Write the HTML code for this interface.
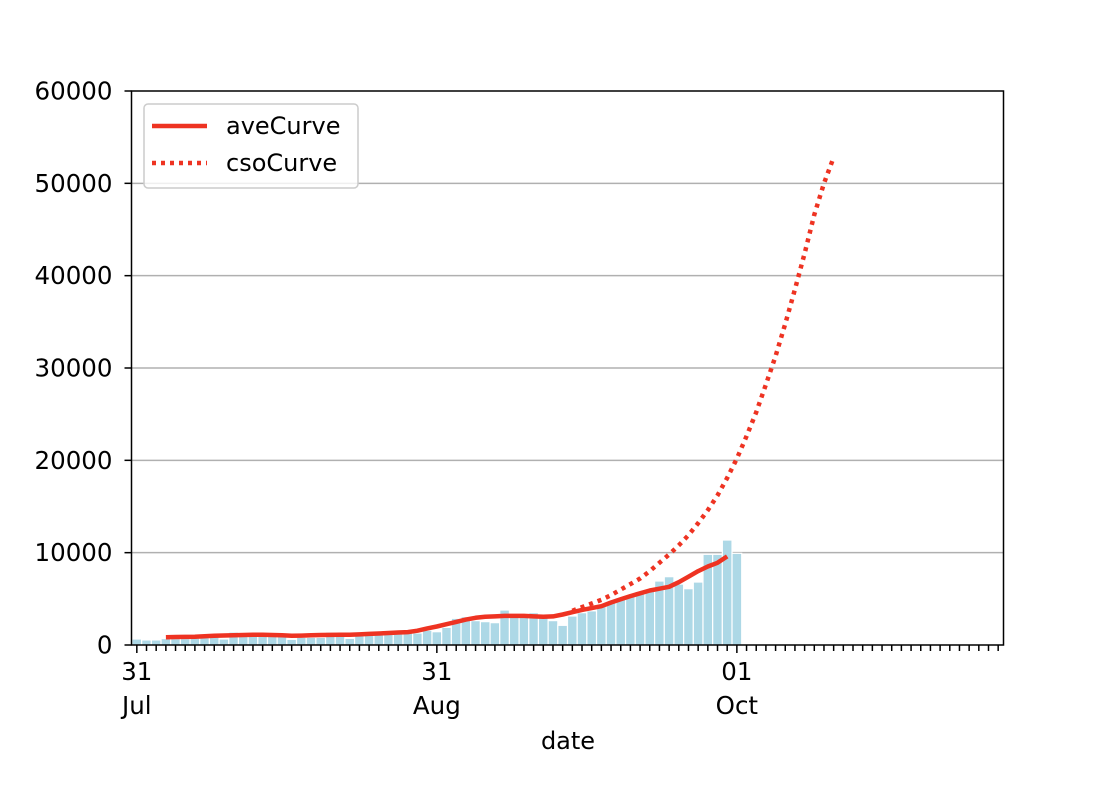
<!DOCTYPE html>
<html><head><meta charset="utf-8"><style>
body{margin:0;background:#fff;}
svg text{font-family:"DejaVu Sans","Liberation Sans",sans-serif;fill:#000;}
</style></head><body>
<svg id="chart" width="1110" height="796" viewBox="0 0 1110 796" xmlns="http://www.w3.org/2000/svg">
<rect x="0" y="0" width="1110" height="796" fill="#fff"/>
<g id="grid"></g>
<g id="bars"></g>
<g id="lines"></g>
<rect x="131.5" y="91" width="872" height="554" fill="none" stroke="#000" stroke-width="1.5"/>
<g id="xaxis"></g>
<g id="yaxis"></g>
<text x="568" y="749" font-size="24" text-anchor="middle">date</text>
<g>
<rect x="144" y="104" width="214" height="84" rx="4" fill="#fff" fill-opacity="0.8" stroke="#ccc" stroke-width="1.5"/>
<line x1="152" y1="126" x2="207" y2="126" stroke="#ee3322" stroke-width="4.5"/>
<text x="226" y="134" font-size="24">aveCurve</text>
<line x1="152" y1="163" x2="207" y2="163" stroke="#ee3322" stroke-width="4.5" stroke-dasharray="4 5"/>
<text x="226" y="171" font-size="24">csoCurve</text>
</g>
</svg>
<script>
const barValues = [650,550,550,700,700,700,750,800,850,650,1400,1100,1100,1100,1000,1000,610,830,830,830,1400,1000,720,1000,1100,1200,1200,1200,1300,1300,1600,1440,1910,2890,3070,2640,2530,2420,3790,3100,3100,3500,3100,2640,2130,3140,3500,3700,4330,4700,4950,5300,5600,5960,6930,7400,6600,6100,6820,9820,9820,11370,9930];
const aveStart = 3;
const aveValues = [850,870,880,900,950,1000,1030,1060,1080,1100,1100,1080,1050,1000,1020,1050,1080,1090,1100,1100,1150,1200,1250,1300,1350,1400,1550,1800,2000,2250,2500,2750,2950,3050,3100,3150,3150,3150,3100,3050,3100,3300,3550,3800,4000,4200,4600,4950,5300,5600,5900,6100,6300,6800,7400,8000,8500,8900,9600];
const csoStart = 45;
const csoValues = [3700,4100,4500,4900,5400,6000,6600,7200,8000,8900,9800,10800,11900,13200,14600,16200,18100,20200,22600,25200,28200,31300,34800,38500,42400,46600,50000,52800];
const yTicks = [0,10000,20000,30000,40000,50000,60000];
const yTickLabels = ["0","10000","20000","30000","40000","50000","60000"];
const xMajorDays = [0,31,62];
const xMajorLabels = [["31","Jul"],["31","Aug"],["01","Oct"]];
const xMinMax = [-0.55, 89.55];

const NS="http://www.w3.org/2000/svg";
const L=131.5,R=1003.5,T=91,B=645;
function xs(d){return L+(d-xMinMax[0])/(xMinMax[1]-xMinMax[0])*(R-L);}
function ys(v){return B-v/60000*(B-T);}
function mk(tag,attrs,parent){const e=document.createElementNS(NS,tag);for(const k in attrs)e.setAttribute(k,attrs[k]);parent.appendChild(e);return e;}
const grid=document.getElementById('grid'),bars=document.getElementById('bars'),lines=document.getElementById('lines'),xa=document.getElementById('xaxis'),ya=document.getElementById('yaxis');
yTicks.forEach((v,i)=>{
  if(v>0&&v<60000){const g=mk('line',{x1:L,x2:R,y1:ys(v),y2:ys(v),stroke:'#b0b0b0','stroke-width':1.5},grid);
  
  }
  const t=mk('line',{x1:L-7,x2:L,y1:ys(v),y2:ys(v),stroke:'#000','stroke-width':1.5},ya);
  
  
  const tx=mk('text',{x:L-19,y:ys(v)+8.5,'font-size':24.5,'text-anchor':'end'},ya);
  tx.textContent=yTickLabels[i];
  
  
});
const dayW=(R-L)/(xMinMax[1]-xMinMax[0]);
barValues.forEach((v,i)=>{
  const r=mk('rect',{x:xs(i)-dayW*0.5,y:ys(v),width:dayW,height:B-ys(v),fill:'#add8e6',stroke:'#fff','stroke-width':1.2},bars);
  
  
});
const avePts=aveValues.map((v,i)=>xs(aveStart+i).toFixed(1)+','+ys(v).toFixed(1)).join(' ');
const ave=mk('polyline',{points:avePts,fill:'none',stroke:'#ee3322','stroke-width':4.5,'stroke-linejoin':'round'},lines);


const csoPts=csoValues.map((v,i)=>xs(csoStart+i).toFixed(1)+','+ys(v).toFixed(1)).join(' ');
const cso=mk('polyline',{points:csoPts,fill:'none',stroke:'#ee3322','stroke-width':4.5,'stroke-dasharray':'4 5'},lines);


for(let d=0;d<=89;d++){
  const major=xMajorDays.indexOf(d)>=0;
  const t=mk('line',{x1:xs(d),x2:xs(d),y1:B,y2:B+(major?8:6),stroke:'#000','stroke-width':1.5},xa);
  
  
}
xMajorDays.forEach((d,i)=>{
  const t1=mk('text',{x:xs(d),y:680,'font-size':24.5,'text-anchor':'middle'},xa);
  t1.textContent=xMajorLabels[i][0];
  
  
  const t2=mk('text',{x:xs(d),y:714,'font-size':24.5,'text-anchor':'middle'},xa);
  t2.textContent=xMajorLabels[i][1];
  
  
});
</script>
</body></html>
